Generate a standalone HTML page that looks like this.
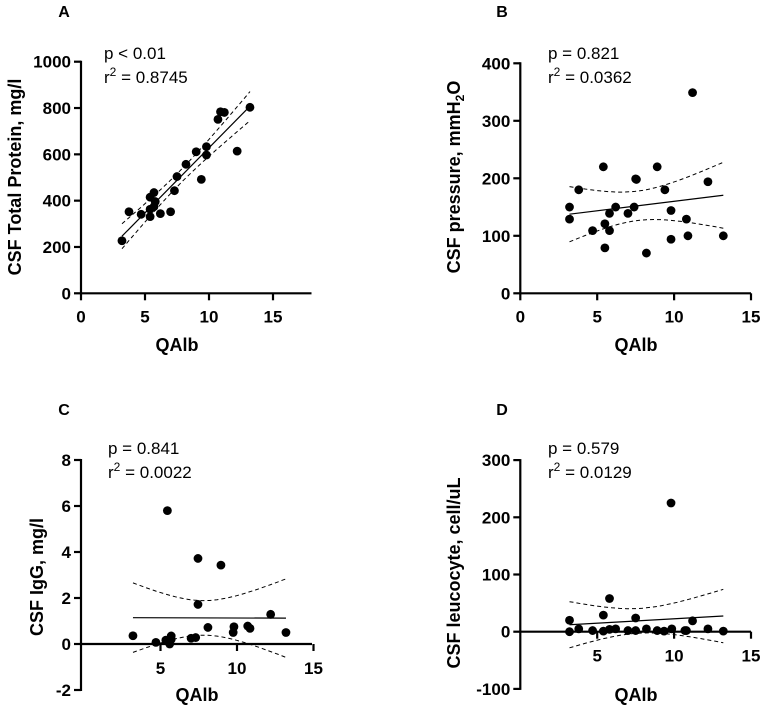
<!DOCTYPE html>
<html><head><meta charset="utf-8">
<style>
html,body{margin:0;padding:0;background:#fff;}
svg{display:block;font-family:"Liberation Sans",Arial,sans-serif;}
.tick{font-weight:bold;font-size:17px;fill:#000;}
.ttl{font-weight:bold;font-size:18px;fill:#000;}
.stat{font-size:17px;fill:#000;}
.lett{font-weight:bold;font-size:16px;fill:#000;}
</style></head>
<body>
<svg id="fig" width="762" height="707" viewBox="0 0 762 707"></svg>
<script>
// ---- data ----
const aX=[3.2,3.75,4.7,5.4,5.4,5.4,5.7,5.8,5.7,6.2,7.0,7.3,7.5,8.2,9.0,9.4,9.8,9.8,10.7,10.9,11.2,12.2,13.2];
const aY=[227,352,341,331,363,415,435,396,374,344,352,443,504,557,611,492,633,597,751,784,781,614,803];
const bX=[3.2,3.2,3.8,4.7,5.4,5.5,5.5,5.8,5.8,6.2,7.0,7.4,7.5,7.55,8.9,8.2,9.4,9.8,9.8,10.8,10.9,11.2,12.2,13.2];
const bY=[150,129,180,109,220,121,79,139,109,150,139,150,199,198,220,70,180,144,94,129,100,349,194,100];
const cX=[3.2,4.7,5.35,5.45,5.6,5.7,5.7,7.0,7.3,7.45,7.45,8.1,8.95,9.75,9.8,10.7,10.85,12.2,13.2];
const cY=[0.36,0.07,0.17,5.8,0.0,0.35,0.2,0.25,0.28,3.72,1.72,0.72,3.43,0.5,0.75,0.78,0.68,1.29,0.5];
const dX=[3.2,3.2,3.8,4.7,5.4,5.4,5.8,5.8,6.2,7.0,7.5,7.5,8.2,8.9,9.35,9.8,9.85,10.7,10.8,11.2,12.2,13.2];
const dY=[20,0,5,2,29,1,58,4,5,2,24,2,5,2,1,225,5,2,2,19,5,1];
const aTicksY=[0,200,400,600,800,1000];
const bTicksY=[0,100,200,300,400];
const cTicksY=[-2,0,2,4,6,8];
const dTicksY=[-100,0,100,200,300];
const abTicksX=[0,5,10,15];
const cdTicksX=[5,10,15];

const NS="http://www.w3.org/2000/svg";
const svg=document.getElementById('fig');
function mk(tag,attrs,parent){const e=document.createElementNS(NS,tag);for(const k in attrs)e.setAttribute(k,attrs[k]);(parent||svg).appendChild(e);return e;}

function fit(xs,ys){
  const n=xs.length;let mx=0,my=0;xs.forEach((v,i)=>{mx+=v;my+=ys[i];});mx/=n;my/=n;
  let sxx=0,sxy=0;xs.forEach((v,i)=>{sxx+=(v-mx)*(v-mx);sxy+=(v-mx)*(ys[i]-my);});
  const b=sxy/sxx,a=my-b*mx;let sse=0;xs.forEach((v,i)=>{const r=ys[i]-(a+b*v);sse+=r*r;});
  const s=Math.sqrt(sse/(n-2));return {a,b,s,n,mx,sxx};
}

function panel(p){
  const g=mk('g',{});
  
  
  const sx=v=>p.x0px+(v-p.xmin)*p.kx;
  const sy=v=>p.y0px-(v-p.ymin)*p.ky;
  const L=mk('text',{x:p.letX,y:p.letY,class:'lett','text-anchor':'middle'},g);L.textContent=p.letter;
  
  
  const ya=mk('line',{x1:p.axX,x2:p.axX,y1:sy(p.ticksY[0])+1,y2:sy(p.ticksY[p.ticksY.length-1])-1,stroke:'#000','stroke-width':2.2},g);
  
  
  p.ticksY.forEach(t=>{
    mk('line',{x1:p.axX-7,x2:p.axX,y1:sy(t),y2:sy(t),stroke:'#000','stroke-width':2.2},g);
    const tx=mk('text',{x:p.axX-10,y:sy(t)+6,class:'tick','text-anchor':'end'},g);tx.textContent=t;
    
    
  });
  const yz=sy(0);
  const xa=mk('line',{x1:p.axX,x2:p.xEnd,y1:yz,y2:yz,stroke:'#000','stroke-width':2.2},g);
  
  
  p.ticksX.forEach(t=>{
    mk('line',{x1:sx(t),x2:sx(t),y1:yz,y2:yz+7,stroke:'#000','stroke-width':2.2},g);
    const tx=mk('text',{x:sx(t),y:yz+p.xLabOff,class:'tick','text-anchor':'middle'},g);tx.textContent=t;
    
    
  });
  const xt=mk('text',{x:p.xtX,y:p.xtY,class:'ttl','text-anchor':'middle'},g);xt.textContent='QAlb';
  
  
  const yt=mk('text',{x:0,y:0,class:'ttl','text-anchor':'middle',transform:`translate(${p.ytX},${p.ytY}) rotate(-90)`},g);
  yt.innerHTML=p.ytitle;
  
  
  const s1=mk('text',{x:p.stX,y:p.stY,class:'stat'},g);s1.textContent=p.pval;
  
  
  const s2=mk('text',{x:p.stX,y:p.stY+24,class:'stat'},g);s2.innerHTML='r<tspan dy="-7" font-size="12">2</tspan><tspan dy="7"> = '+p.r2+'</tspan>';
  
  
  const f=fit(p.xs,p.ys);const t=2.07;
  const xlo=Math.min(...p.xs),xhi=Math.max(...p.xs);
  let up='',lo='';
  for(let i=0;i<=40;i++){const x=xlo+(xhi-xlo)*i/40;const yh=f.a+f.b*x;
    const se=f.s*Math.sqrt(1/f.n+(x-f.mx)*(x-f.mx)/f.sxx);
    up+=(i?'L':'M')+sx(x).toFixed(1)+','+sy(yh+t*se).toFixed(1);
    lo+=(i?'L':'M')+sx(x).toFixed(1)+','+sy(yh-t*se).toFixed(1);}
  const cu=mk('path',{d:up,fill:'none',stroke:'#000','stroke-width':1,'stroke-dasharray':'4,3'},g);
  
  
  const cl=mk('path',{d:lo,fill:'none',stroke:'#000','stroke-width':1,'stroke-dasharray':'4,3'},g);
  
  
  const rl=mk('line',{x1:sx(xlo),y1:sy(f.a+f.b*xlo),x2:sx(xhi),y2:sy(f.a+f.b*xhi),stroke:'#000','stroke-width':1.2},g);
  
  
  p.xs.forEach((x,i)=>{
    const c=mk('circle',{cx:sx(x),cy:sy(p.ys[i]),r:4.4,fill:'#000'},g);
    
    
  });
}

panel({name:'panel-a',letter:'A',letX:64,letY:17,xs:aX,ys:aY,ticksY:aTicksY,ticksX:abTicksX,
  x0px:81,xmin:0,kx:12.8,y0px:293.3,ymin:0,ky:0.2316,axX:81,xEnd:311.5,xLabOff:29,
  xtX:177,xtY:351,ytX:21,ytY:177,ytitle:'CSF Total Protein, mg/l',stX:104,stY:59,pval:'p < 0.01',r2:'0.8745'});
panel({name:'panel-b',letter:'B',letX:502,letY:17,xs:bX,ys:bY,ticksY:bTicksY,ticksX:abTicksX,
  x0px:520.3,xmin:0,kx:15.38,y0px:293.3,ymin:0,ky:0.575,axX:520.3,xEnd:751,xLabOff:29,
  xtX:636,xtY:351,ytX:460,ytY:177,ytitle:'CSF pressure, mmH<tspan font-size="12" dy="4">2</tspan><tspan dy="-4">O</tspan>',stX:548,stY:59,pval:'p = 0.821',r2:'0.0362'});
panel({name:'panel-c',letter:'C',letX:64,letY:415,xs:cX,ys:cY,ticksY:cTicksY,ticksX:cdTicksX,
  x0px:84,xmin:0,kx:15.3,y0px:644,ymin:0,ky:23,axX:81,xEnd:312,xLabOff:30,
  xtX:197,xtY:701,ytX:43,ytY:577,ytitle:'CSF IgG, mg/l',stX:108,stY:454,pval:'p = 0.841',r2:'0.0022'});
panel({name:'panel-d',letter:'D',letX:502,letY:415,xs:dX,ys:dY,ticksY:dTicksY,ticksX:cdTicksX,
  x0px:520.3,xmin:0,kx:15.38,y0px:631.7,ymin:0,ky:0.572,axX:520.3,xEnd:751,xLabOff:30,
  xtX:636,xtY:701,ytX:460,ytY:573,ytitle:'CSF leucocyte, cell/uL',stX:548,stY:454,pval:'p = 0.579',r2:'0.0129'});
</script>
</body></html>
